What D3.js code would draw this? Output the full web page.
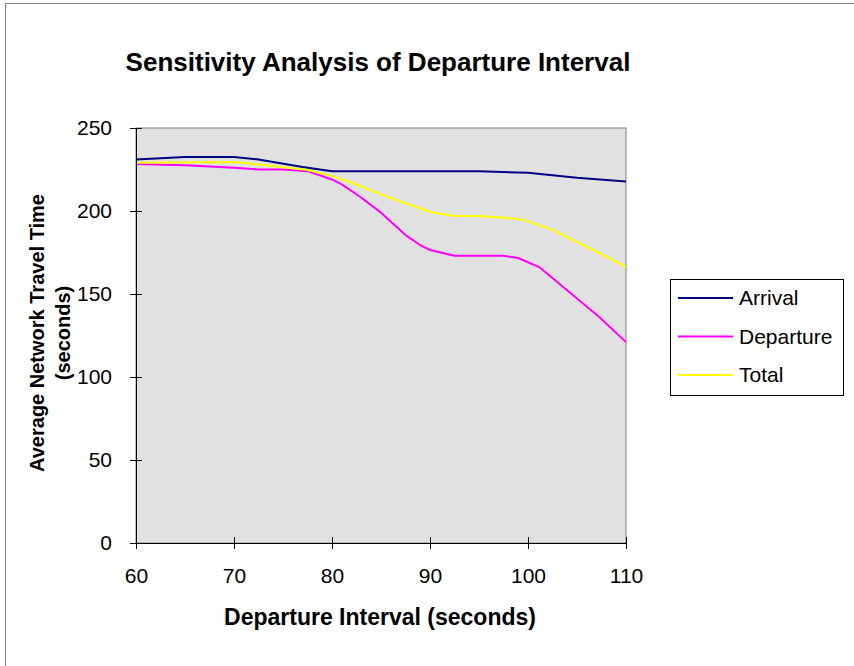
<!DOCTYPE html>
<html>
<head>
<meta charset="utf-8">
<script src="https://cdn.jsdelivr.net/npm/d3@7"></script>
<style>
body{margin:0;background:#fff}
svg text{font-family:"Liberation Sans",Arial,sans-serif}
</style>
</head>
<body>
<div id="chart"></div>
<script>
// values
var arrival = [[60,231],[65,232.5],[70,232.5],[72.5,231],[77,226.5],[80,224],[95,224],[100,223],[105,220],[110,217.7]]
var departure = [[60,228.3],[65,227.5],[70,226],[72.5,225],[75,225],[77.5,224],[80,219],[81,216],[83,208],[85,199],[87.5,185.5],[89,179.5],[90,176.5],[92.5,173],[97.5,173],[99,171.7],[101.2,166],[107.3,136],[110,121]]
var total = [[60,229],[70,229.5],[72.5,228],[77.5,224.7],[80,221],[82,217],[85,210],[90,199.4],[92.5,197],[95,197],[97.5,196],[99.5,194.8],[102.5,188.6],[107.3,174.7],[110,166.3]]
var seriesNames = ["Arrival","Departure","Total"]
var seriesColors = ["#000080","#FF00FF","#FFFF00"]
var xTicks = [60,70,80,90,100,110]
var yTicks = [0,50,100,150,200,250]

var series = [arrival,departure,total].map((v,i)=>({name:seriesNames[i],color:seriesColors[i],values:v}))

var W = 854, H = 666
var svg = d3.select("#chart").append("svg")
    .attr("width",W)
    .attr("height",H)

// outer chart frame
svg.append("rect")
    .attr("x",5.5)
    .attr("y",3.5)
    .attr("width",W+10)
    .attr("height",H+10)
    .attr("fill","#fff")
    .attr("stroke","#808080")

var pLeft = 136, pRight = 626, pTop = 128, pBottom = 543

var x = d3.scaleLinear().domain([60,110]).range([pLeft,pRight])
var y = d3.scaleLinear().domain([0,250]).range([pBottom,pTop])

svg.append("rect")
    .attr("x",pLeft)
    .attr("y",pTop)
    .attr("width",pRight-pLeft)
    .attr("height",pBottom-pTop)
    .attr("fill","#e1e1e1")
    .attr("stroke","#808080")

var line = d3.line().x(d=>x(d[0])).y(d=>y(d[1]))

svg.selectAll(".series")
    .data(series)
    .enter()
    .append("path")
    .attr("d",d=>line(d.values))
    .attr("fill","none")
    .attr("stroke",d=>d.color)
    .attr("stroke-width",2)
    .attr("stroke-linejoin","round")

// axes with cross ticks
var xAxis = svg.append("g")
    .attr("transform","translate(0,"+pBottom+")")
    .call(d3.axisBottom(x).tickValues(xTicks).tickSizeInner(6).tickSizeOuter(0).tickPadding(19))
xAxis.selectAll(".tick line").attr("y1",-6).attr("y2",6).attr("stroke","#000")
xAxis.select(".domain").attr("stroke","#000")
xAxis.selectAll("text").attr("font-size",21).attr("fill","#000")

var yAxis = svg.append("g")
    .attr("transform","translate("+pLeft+",0)")
    .call(d3.axisLeft(y).tickValues(yTicks).tickSizeInner(6).tickSizeOuter(0).tickPadding(18))
yAxis.selectAll(".tick line").attr("x1",-6).attr("x2",6).attr("stroke","#000")
yAxis.select(".domain").attr("stroke","#000")
yAxis.selectAll("text").attr("font-size",21).attr("fill","#000")

svg.append("text")
    .text("Sensitivity Analysis of Departure Interval")
    .attr("x",378)
    .attr("y",71)
    .attr("text-anchor","middle")
    .attr("font-size",26)
    .attr("font-weight",700)

svg.append("text")
    .text("Departure Interval (seconds)")
    .attr("x",380)
    .attr("y",625)
    .attr("text-anchor","middle")
    .attr("font-size",23)
    .attr("font-weight",700)

var yt = svg.append("text")
    .attr("transform","translate(44,333) rotate(-90)")
    .attr("text-anchor","middle")
    .attr("font-size",20)
    .attr("font-weight",700)
yt.append("tspan").attr("x",0).attr("dy",0).text("Average Network Travel Time")
yt.append("tspan").attr("x",0).attr("dy",26).text("(seconds)")

// legend
var lg = svg.append("g").attr("transform","translate(670,279)")
lg.append("rect")
    .attr("x",0.5)
    .attr("y",0.5)
    .attr("width",173)
    .attr("height",116)
    .attr("fill","#fff")
    .attr("stroke","#000")

var items = lg.selectAll(".item")
    .data(series)
    .enter()
    .append("g")
    .attr("transform",(d,i)=>"translate(0,"+(19+i*38.5)+")")
items.append("line")
    .attr("x1",8)
    .attr("x2",63)
    .attr("stroke",d=>d.color)
    .attr("stroke-width",2)
items.append("text")
    .text(d=>d.name)
    .attr("x",69)
    .attr("y",7)
    .attr("font-size",21)
</script>
</body>
</html>
